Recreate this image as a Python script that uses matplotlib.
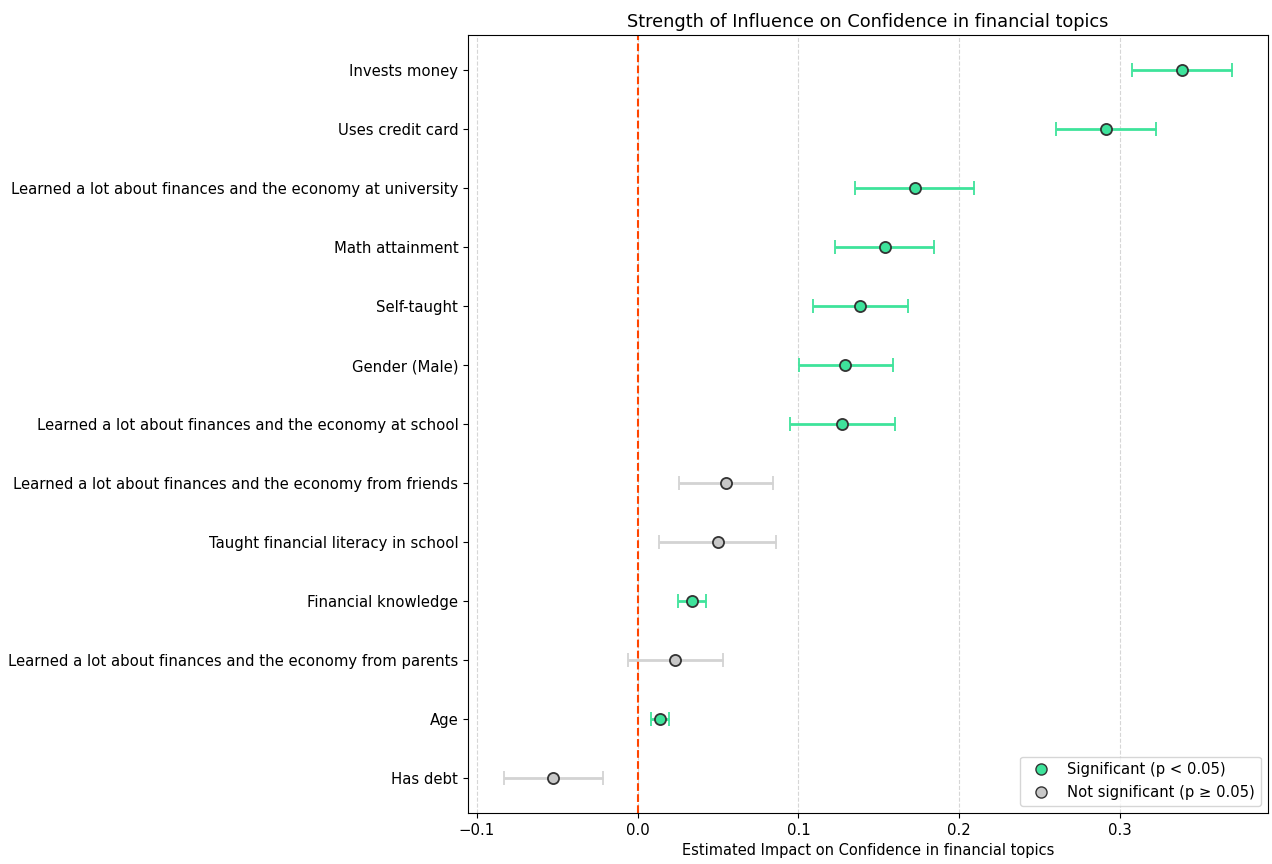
import matplotlib.pyplot as plt
from matplotlib.lines import Line2D
import numpy as np

# factors, bottom to top
labels = [
    "Has debt",
    "Age",
    "Learned a lot about finances and the economy from parents",
    "Financial knowledge",
    "Taught financial literacy in school",
    "Learned a lot about finances and the economy from friends",
    "Learned a lot about finances and the economy at school",
    "Gender (Male)",
    "Self-taught",
    "Math attainment",
    "Learned a lot about finances and the economy at university",
    "Uses credit card",
    "Invests money",
]
coef = [-0.0526, 0.0137, 0.0233, 0.0339, 0.0499, 0.0549, 0.1272, 0.1293, 0.1386, 0.1536, 0.1723, 0.2911, 0.3387]
ci_low = [-0.0829, 0.0085, -0.0062, 0.0251, 0.0131, 0.0254, 0.0946, 0.1004, 0.1091, 0.1227, 0.1355, 0.2602, 0.3074]
ci_high = [-0.0218, 0.0193, 0.0530, 0.0426, 0.0862, 0.0844, 0.1602, 0.1588, 0.1683, 0.1844, 0.2091, 0.3228, 0.3697]
significant = [False, True, False, True, False, False, True, True, True, True, True, True, True]

green = '#3ee39b'
grey = '#c8c8c8'

fig, ax = plt.subplots(figsize=(12.72, 8.64), dpi=100)

for i in range(len(labels)):
    c = green if significant[i] else grey
    ec = green if significant[i] else '#d3d3d3'
    ax.errorbar(coef[i], i,
                xerr=[[coef[i] - ci_low[i]], [ci_high[i] - coef[i]]],
                fmt='o', color=ec, ecolor=ec, elinewidth=2, capsize=5, capthick=1.5,
                markersize=8, markerfacecolor=c, markeredgecolor='#333333', markeredgewidth=1.3)

ax.axvline(0, color='orangered', linestyle='--', linewidth=1.5)
ax.set_yticks(np.arange(len(labels)))
ax.set_yticklabels(labels)
ax.tick_params(labelsize=10.7)
ax.grid(axis='x', linestyle='--', color='#cccccc', alpha=0.8)
ax.set_axisbelow(True)
ax.set_xlabel("Estimated Impact on Confidence in financial topics", fontsize=10.5)
ax.set_title("Strength of Influence on Confidence in financial topics", fontsize=12.8)

handles = [
    Line2D([0], [0], marker='o', linestyle='', markerfacecolor=green, markeredgecolor='#333333', markersize=8),
    Line2D([0], [0], marker='o', linestyle='', markerfacecolor=grey, markeredgecolor='#333333', markersize=8),
]
ax.legend(handles, ["Significant (p < 0.05)", "Not significant (p \u2265 0.05)"], loc='lower right', fontsize=10.6)

plt.subplots_adjust(left=0.368, right=0.997, top=0.9595, bottom=0.059)
plt.savefig('out.png')
